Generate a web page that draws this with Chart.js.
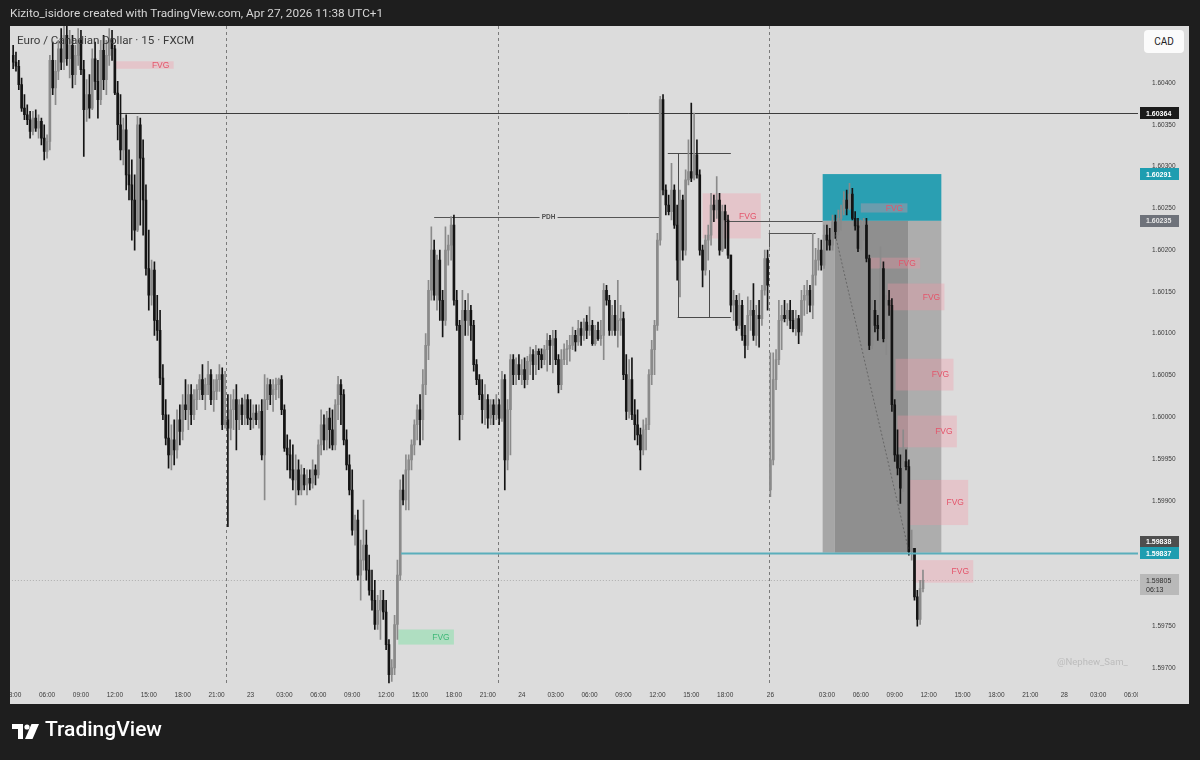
<!DOCTYPE html>
<html><head><meta charset="utf-8">
<script src="https://cdn.jsdelivr.net/npm/chart.js@4.4.1/dist/chart.umd.min.js"></script>
<style>
html,body{margin:0;padding:0;background:#1e1e1e;}
#wrap{position:relative;width:1200px;height:760px;overflow:hidden;}
canvas{position:absolute;left:0;top:0;}
.t{position:absolute;white-space:nowrap;font-family:Roboto,"Liberation Sans",sans-serif;}
</style></head><body>
<div id="wrap">
<canvas id="c" width="1200" height="760"></canvas>
<div class="t" style="left:10px;top:6px;font-size:11.8px;color:#d6d6d6;">Kizito_isidore created with TradingView.com, Apr 27, 2026 11:38 UTC+1</div>
<div class="t" style="left:17px;top:33px;font-size:11.6px;color:#3a3a3a;">Euro / Canadian Dollar · 15 · FXCM</div>
<div class="t" style="left:1144px;top:30px;width:40px;height:23px;line-height:23px;text-align:center;background:#fbfbfb;border-radius:4px;font-size:10px;color:#222;">CAD</div>
<div class="t" style="left:1057px;top:656px;font-size:9.5px;color:#bcbcbc;">@Nephew_Sam_</div>
<svg style="position:absolute;left:12px;top:724px" width="28" height="16" viewBox="0 0 28 16"><path d="M0 0H11V15H6V5H0Z" fill="#fff"/><circle cx="15" cy="3" r="2.6" fill="#fff"/><path d="M19.5 0H27L20.5 15H13Z" fill="#fff"/></svg>
<div class="t" style="left:45px;top:717px;font-size:21px;font-weight:500;color:#fff;">TradingView</div>
</div>
<script>
// ---- OHLC, 15-minute EUR/CAD bars (bar index 0 = 22nd 03:00) ----
const opens = [1.60433,1.60425,1.60420,1.60398,1.60370,1.60362,1.60356,1.60342,1.60358,1.60346,
1.60354,1.60334,1.60318,1.60330,1.60427,1.60394,1.60414,1.60441,1.60425,1.60457,
1.60429,1.60445,1.60410,1.60433,1.60451,1.60416,1.60368,1.60386,1.60370,1.60429,
1.60402,1.60380,1.60439,1.60404,1.60433,1.60453,1.60441,1.60388,1.60350,1.60320,
1.60344,1.60290,1.60278,1.60260,1.60224,1.60350,1.60310,1.60260,1.60178,1.60146,
1.60176,1.60116,1.60104,1.60047,1.60003,1.59975,1.59955,1.59973,1.59961,1.59997,
1.59983,1.60015,1.60009,1.60027,1.60003,1.60021,1.60033,1.60045,1.60027,1.60039,
1.60051,1.60021,1.60031,1.60045,1.60051,1.59991,1.59997,1.59987,1.60009,1.60021,
1.59997,1.60015,1.60003,1.60021,1.59999,1.59997,1.60005,1.59997,1.60007,1.59955,
1.60021,1.60039,1.60027,1.60033,1.60039,1.60045,1.60009,1.59963,1.59955,1.59937,
1.59925,1.59937,1.59913,1.59931,1.59919,1.59927,1.59921,1.59937,1.59931,1.59967,
1.59991,1.59973,1.59999,1.59985,1.59967,1.60015,1.60039,1.60027,1.59973,1.59943,
1.59913,1.59865,1.59877,1.59811,1.59829,1.59847,1.59817,1.59793,1.59781,1.59752,
1.59769,1.59781,1.59767,1.59728,1.59692,1.59700,1.59752,1.59811,1.59913,1.59901,
1.59937,1.59949,1.59967,1.59991,1.60009,1.59997,1.60039,1.60086,1.60152,1.60200,
1.60146,1.60188,1.60140,1.60116,1.60200,1.60206,1.60230,1.60140,1.60110,1.60003,
1.60128,1.60116,1.60128,1.60110,1.60063,1.60045,1.60027,1.60009,1.60021,1.59999,
1.60015,1.60003,1.60015,1.59999,1.60045,1.59949,1.60009,1.60069,1.60051,1.60063,
1.60051,1.60057,1.60045,1.60067,1.60075,1.60063,1.60079,1.60075,1.60069,1.60081,
1.60092,1.60086,1.60094,1.60069,1.60039,1.60069,1.60081,1.60082,1.60086,1.60098,
1.60090,1.60106,1.60098,1.60114,1.60104,1.60110,1.60088,1.60104,1.60094,1.60098,
1.60152,1.60140,1.60104,1.60122,1.60104,1.60116,1.60118,1.60051,1.60007,1.60045,
1.60003,1.59991,1.59979,1.59961,1.59985,1.59991,1.60051,1.60081,1.60110,1.60212,
1.60380,1.60272,1.60254,1.60246,1.60272,1.60230,1.60188,1.60260,1.60200,1.60284,
1.60294,1.60286,1.60314,1.60290,1.60200,1.60176,1.60212,1.60218,1.60254,1.60248,
1.60260,1.60200,1.60246,1.60236,1.60194,1.60134,1.60140,1.60110,1.60134,1.60098,
1.60086,1.60122,1.60128,1.60098,1.60122,1.60118,1.60152,1.60190,1.59913,1.59949,
1.60045,1.60069,1.60116,1.60122,1.60118,1.60128,1.60116,1.60106,1.60118,1.60102,
1.60140,1.60146,1.60152,1.60134,1.60170,1.60188,1.60200,1.60182,1.60218,1.60212,
1.60206,1.60234,1.60222,1.60238,1.60248,1.60260,1.60250,1.60267,1.60238,1.60229,
1.60202,1.60226,1.60230,1.60190,1.60086,1.60128,1.60110,1.60106,1.60178,1.60094,
1.60140,1.60134,1.60015,1.59955,1.59939,1.59915,1.59947,1.59941,1.59839,1.59843,
1.59785,1.59758,1.59795];
const highs = [1.60445,1.60437,1.60427,1.60406,1.60386,1.60374,1.60366,1.60366,1.60368,1.60362,
1.60358,1.60350,1.60338,1.60433,1.60449,1.60427,1.60451,1.60465,1.60468,1.60468,
1.60463,1.60457,1.60445,1.60465,1.60463,1.60427,1.60404,1.60410,1.60441,1.60449,
1.60427,1.60451,1.60457,1.60451,1.60465,1.60463,1.60445,1.60402,1.60386,1.60358,
1.60362,1.60320,1.60308,1.60290,1.60360,1.60358,1.60332,1.60278,1.60224,1.60188,
1.60186,1.60146,1.60128,1.60063,1.60021,1.60003,1.59991,1.59997,1.60009,1.60015,
1.60027,1.60045,1.60039,1.60039,1.60033,1.60039,1.60051,1.60063,1.60047,1.60067,
1.60057,1.60045,1.60051,1.60063,1.60059,1.60055,1.60027,1.60027,1.60033,1.60039,
1.60021,1.60023,1.60027,1.60027,1.60021,1.60015,1.60015,1.60015,1.60021,1.60051,
1.60047,1.60045,1.60045,1.60047,1.60047,1.60050,1.60015,1.59979,1.59973,1.59967,
1.59955,1.59949,1.59943,1.59939,1.59937,1.59937,1.59949,1.59943,1.59973,1.60009,
1.60003,1.60007,1.60011,1.60009,1.60021,1.60049,1.60045,1.60033,1.59985,1.59955,
1.59937,1.59883,1.59889,1.59853,1.59901,1.59865,1.59835,1.59817,1.59805,1.59787,
1.59793,1.59793,1.59781,1.59734,1.59710,1.59763,1.59829,1.59925,1.59931,1.59955,
1.59955,1.59973,1.59997,1.60015,1.60027,1.60057,1.60100,1.60164,1.60228,1.60212,
1.60194,1.60200,1.60152,1.60228,1.60218,1.60240,1.60242,1.60152,1.60116,1.60152,
1.60140,1.60148,1.60134,1.60116,1.60069,1.60051,1.60045,1.60039,1.60027,1.60021,
1.60021,1.60027,1.60021,1.60055,1.60051,1.60021,1.60075,1.60075,1.60071,1.60075,
1.60069,1.60071,1.60073,1.60084,1.60081,1.60086,1.60082,1.60082,1.60086,1.60100,
1.60098,1.60104,1.60104,1.60075,1.60081,1.60088,1.60092,1.60098,1.60108,1.60104,
1.60116,1.60114,1.60118,1.60122,1.60132,1.60116,1.60110,1.60114,1.60116,1.60160,
1.60158,1.60146,1.60134,1.60140,1.60164,1.60134,1.60126,1.60075,1.60069,1.60071,
1.60021,1.60009,1.59987,1.59997,1.59999,1.60057,1.60092,1.60116,1.60220,1.60384,
1.60386,1.60278,1.60266,1.60304,1.60278,1.60254,1.60272,1.60266,1.60296,1.60332,
1.60376,1.60364,1.60332,1.60296,1.60206,1.60218,1.60230,1.60268,1.60266,1.60288,
1.60268,1.60254,1.60254,1.60242,1.60194,1.60152,1.60146,1.60148,1.60140,1.60110,
1.60144,1.60140,1.60160,1.60134,1.60140,1.60158,1.60200,1.60200,1.60077,1.60077,
1.60081,1.60140,1.60134,1.60140,1.60136,1.60140,1.60128,1.60128,1.60122,1.60152,
1.60158,1.60164,1.60158,1.60220,1.60202,1.60214,1.60212,1.60230,1.60230,1.60226,
1.60242,1.60242,1.60248,1.60254,1.60270,1.60272,1.60280,1.60274,1.60246,1.60238,
1.60236,1.60238,1.60238,1.60194,1.60140,1.60140,1.60122,1.60204,1.60186,1.60146,
1.60152,1.60142,1.60021,1.59985,1.59955,1.59985,1.59961,1.59949,1.59865,1.59843,
1.59793,1.59805,1.59817];
const lows = [1.60417,1.60414,1.60392,1.60366,1.60356,1.60350,1.60334,1.60338,1.60342,1.60334,
1.60326,1.60308,1.60310,1.60320,1.60386,1.60374,1.60404,1.60416,1.60416,1.60421,
1.60406,1.60394,1.60398,1.60421,1.60410,1.60312,1.60354,1.60358,1.60368,1.60392,
1.60358,1.60374,1.60392,1.60386,1.60421,1.60427,1.60386,1.60332,1.60308,1.60302,
1.60272,1.60260,1.60212,1.60200,1.60222,1.60230,1.60218,1.60170,1.60128,1.60134,
1.60098,1.60092,1.60039,1.59997,1.59967,1.59939,1.59937,1.59943,1.59951,1.59967,
1.59973,1.59997,1.59985,1.59991,1.59997,1.60009,1.60021,1.60021,1.60009,1.60027,
1.60015,1.60007,1.60021,1.60031,1.59985,1.59987,1.59869,1.59973,1.59985,1.59961,
1.59985,1.59991,1.59991,1.59991,1.59985,1.59987,1.59991,1.59987,1.59949,1.59901,
1.60009,1.60015,1.60007,1.60021,1.60023,1.60003,1.59959,1.59937,1.59927,1.59913,
1.59895,1.59907,1.59907,1.59913,1.59907,1.59913,1.59915,1.59919,1.59927,1.59955,
1.59961,1.59961,1.59963,1.59961,1.59961,1.59997,1.59991,1.59967,1.59937,1.59907,
1.59859,1.59847,1.59805,1.59781,1.59817,1.59805,1.59787,1.59769,1.59746,1.59746,
1.59734,1.59758,1.59722,1.59682,1.59684,1.59692,1.59734,1.59805,1.59895,1.59889,
1.59889,1.59937,1.59955,1.59973,1.59967,1.59973,1.60027,1.60069,1.60140,1.60140,
1.60128,1.60116,1.60096,1.60110,1.60182,1.60188,1.60134,1.60104,1.59973,1.59997,
1.60098,1.60098,1.60092,1.60055,1.60039,1.60021,1.59993,1.59991,1.59987,1.59991,
1.59991,1.59997,1.59991,1.59995,1.59913,1.59937,1.59955,1.60039,1.60039,1.60045,
1.60039,1.60035,1.60039,1.60051,1.60045,1.60051,1.60057,1.60059,1.60063,1.60055,
1.60063,1.60053,1.60063,1.60029,1.60033,1.60063,1.60063,1.60067,1.60081,1.60079,
1.60086,1.60086,1.60092,1.60094,1.60098,1.60086,1.60086,1.60092,1.60086,1.60069,
1.60134,1.60098,1.60098,1.60098,1.60084,1.60098,1.60045,1.59997,1.59999,1.59997,
1.59973,1.59967,1.59937,1.59955,1.59961,1.59985,1.60039,1.60051,1.60104,1.60206,
1.60266,1.60242,1.60242,1.60236,1.60226,1.60164,1.60144,1.60188,1.60194,1.60278,
1.60282,1.60284,1.60286,1.60194,1.60156,1.60170,1.60188,1.60206,1.60234,1.60238,
1.60194,1.60198,1.60202,1.60190,1.60126,1.60116,1.60104,1.60106,1.60092,1.60071,
1.60081,1.60104,1.60092,1.60086,1.60084,1.60110,1.60146,1.60128,1.59905,1.59943,
1.60033,1.60063,1.60081,1.60114,1.60110,1.60106,1.60102,1.60098,1.60088,1.60098,
1.60122,1.60124,1.60126,1.60118,1.60158,1.60176,1.60176,1.60178,1.60200,1.60200,
1.60200,1.60214,1.60218,1.60224,1.60242,1.60242,1.60248,1.60236,1.60224,1.60198,
1.60200,1.60212,1.60186,1.60081,1.60082,1.60102,1.60092,1.60104,1.60090,1.60075,
1.60122,1.60007,1.59947,1.59931,1.59897,1.59911,1.59937,1.59835,1.59829,1.59781,
1.59750,1.59752,1.59791];
const closes = [1.60425,1.60420,1.60398,1.60370,1.60362,1.60356,1.60342,1.60358,1.60346,1.60354,
1.60334,1.60318,1.60330,1.60427,1.60394,1.60414,1.60441,1.60425,1.60457,1.60429,
1.60445,1.60410,1.60433,1.60451,1.60416,1.60368,1.60386,1.60370,1.60429,1.60402,
1.60380,1.60439,1.60404,1.60433,1.60453,1.60441,1.60388,1.60350,1.60320,1.60344,
1.60290,1.60278,1.60260,1.60224,1.60350,1.60310,1.60260,1.60178,1.60146,1.60176,
1.60116,1.60104,1.60047,1.60003,1.59975,1.59955,1.59973,1.59961,1.59997,1.59983,
1.60015,1.60009,1.60027,1.60003,1.60021,1.60033,1.60045,1.60027,1.60039,1.60051,
1.60021,1.60031,1.60045,1.60051,1.59991,1.59997,1.59987,1.60009,1.60021,1.59997,
1.60015,1.60003,1.60021,1.59999,1.59997,1.60005,1.59997,1.60007,1.59955,1.60021,
1.60039,1.60027,1.60033,1.60039,1.60045,1.60009,1.59963,1.59955,1.59937,1.59925,
1.59937,1.59913,1.59931,1.59919,1.59927,1.59921,1.59937,1.59931,1.59967,1.59991,
1.59973,1.59999,1.59985,1.59967,1.60015,1.60039,1.60027,1.59973,1.59943,1.59913,
1.59865,1.59877,1.59811,1.59829,1.59847,1.59817,1.59793,1.59781,1.59752,1.59769,
1.59781,1.59767,1.59728,1.59692,1.59700,1.59752,1.59811,1.59913,1.59901,1.59937,
1.59949,1.59967,1.59991,1.60009,1.59997,1.60039,1.60086,1.60152,1.60200,1.60146,
1.60188,1.60140,1.60116,1.60200,1.60206,1.60230,1.60140,1.60110,1.60003,1.60128,
1.60116,1.60128,1.60110,1.60063,1.60045,1.60027,1.60009,1.60021,1.59999,1.60015,
1.60003,1.60015,1.59999,1.60045,1.59949,1.60009,1.60069,1.60051,1.60063,1.60051,
1.60057,1.60045,1.60067,1.60075,1.60063,1.60079,1.60075,1.60069,1.60081,1.60092,
1.60086,1.60094,1.60069,1.60039,1.60069,1.60081,1.60082,1.60086,1.60098,1.60090,
1.60106,1.60098,1.60114,1.60104,1.60110,1.60088,1.60104,1.60094,1.60098,1.60152,
1.60140,1.60104,1.60122,1.60104,1.60116,1.60118,1.60051,1.60007,1.60045,1.60003,
1.59991,1.59979,1.59961,1.59985,1.59991,1.60051,1.60081,1.60110,1.60212,1.60380,
1.60272,1.60254,1.60246,1.60272,1.60230,1.60188,1.60260,1.60200,1.60284,1.60294,
1.60286,1.60314,1.60290,1.60200,1.60176,1.60212,1.60218,1.60254,1.60248,1.60260,
1.60200,1.60246,1.60236,1.60194,1.60134,1.60140,1.60110,1.60134,1.60098,1.60086,
1.60122,1.60128,1.60098,1.60122,1.60118,1.60152,1.60190,1.60158,1.59949,1.60045,
1.60069,1.60116,1.60122,1.60118,1.60128,1.60116,1.60106,1.60118,1.60102,1.60140,
1.60146,1.60152,1.60134,1.60170,1.60188,1.60200,1.60182,1.60218,1.60212,1.60206,
1.60234,1.60222,1.60238,1.60248,1.60260,1.60250,1.60267,1.60238,1.60229,1.60202,
1.60226,1.60230,1.60190,1.60086,1.60128,1.60110,1.60106,1.60178,1.60094,1.60140,
1.60134,1.60015,1.59955,1.59939,1.59915,1.59947,1.59941,1.59839,1.59843,1.59785,
1.59758,1.59795,1.59805];

// ---- axis ticks ----
const xTickIdx = [0,12,24,36,48,60,72,84,96,108,120,132,144,156,168,180,192,204,216,228,240,252,268,288,300,312,324,336,348,360,372,384,396];
const xTickText = ['03:00','06:00','09:00','12:00','15:00','18:00','21:00','23','03:00','06:00','09:00','12:00','15:00','18:00','21:00','24','03:00','06:00','09:00','12:00','15:00','18:00','26','03:00','06:00','09:00','12:00','15:00','18:00','21:00','28','03:00','06:00'];
const yTicks = [1.597,1.5975,1.598,1.5985,1.599,1.5995,1.600,1.6005,1.601,1.6015,1.602,1.6025,1.603,1.6035,1.604];
const sessionBreaks = [75.5,171.5,267.5];

// ---- drawings (bar index / price) ----
const fvgFrom = [36,244,300,303.4,309.5,312.3,313,316.9,318.6,136.3];
const fvgTo   = [56.8,264.6,316.5,321,329.6,332.8,334,338,339.8,156];
const fvgHigh = [1.60426,1.60268,1.60256,1.60191,1.60160,1.60070,1.60002,1.59925,1.59829,1.59746];
const fvgLow  = [1.60417,1.60214,1.60245,1.60178,1.60128,1.60032,1.59964,1.59871,1.59802,1.59728];
const fvgBull = [false,false,false,false,false,false,false,false,false,true];
const posBands = [286.5,290.7,316.9,328.5];
const posTarget = 1.60291, posEntry = 1.60235, posStop = 1.59838;
const levelPrice = 1.60364, levelFrom = 37.7;
const pdhPrice = 1.60240, pdhFrom = 149, pdhTo = 229.3, pdhText = 189.5;
const tealPrice = 1.59837, tealFrom = 137.3;
const lastPrice = 1.59805;
const entryLine = [252.2, 286.5];
const rangeBox = {top:1.60316, bottom:1.60120, topFrom:231.7, left:235.2, right:254, mid:246.2, midTop:1.60176};
const bracket = {p:1.60221, p2:1.60203, from:267.4, to:284};
const diag = [[291,1.60218],[316.9,1.59841]];

const idx = closes.map((_, i) => i);
const colors = closes.map((c, i) => c >= opens[i] ? '#8a8a8a' : '#141414');

function hline(c, x1, x2, yy){ c.beginPath(); c.moveTo(x1, yy); c.lineTo(x2, yy); c.stroke(); }
function vline(c, xx, y1, y2){ c.beginPath(); c.moveTo(xx, y1); c.lineTo(xx, y2); c.stroke(); }

const decor = {
  id: 'decor',
  beforeDraw(chart){
    const c = chart.ctx; c.save();
    c.fillStyle = '#1e1e1e'; c.fillRect(0,0,1200,760);
    c.fillStyle = '#dcdcdc'; c.fillRect(10,26,1179,678);
    c.restore();
  },
  beforeDatasetsDraw(chart){
    const {ctx:c, chartArea:a, scales:{x, y}} = chart;
    const X = v => x.getPixelForValue(v), Y = v => y.getPixelForValue(v);
    c.save();
    c.beginPath(); c.rect(a.left, a.top, a.right-a.left, a.bottom-a.top); c.clip();
    c.lineWidth = 1;
    c.strokeStyle = '#7a7a7a'; c.setLineDash([3,3]);
    sessionBreaks.forEach(v => { const p = Math.round(X(v))+0.5; vline(c, p, a.top, a.bottom); });
    c.strokeStyle = 'rgba(120,120,120,0.45)'; c.setLineDash([1,2]);
    hline(c, a.left, a.right, Math.round(Y(lastPrice))+0.5);
    c.setLineDash([]);
    c.strokeStyle = '#3c3c3c';
    hline(c, X(levelFrom), a.right, Math.round(Y(levelPrice))+0.5);
    c.fillStyle = '#2a9fb2';
    c.fillRect(X(posBands[0]), Y(posTarget), X(posBands[3])-X(posBands[0]), Y(posEntry)-Y(posTarget));
    const bandCol = ['#a6a6a6','#8f8f8f','#adadad'];
    for (let k=0;k<3;k++){
      c.fillStyle = bandCol[k];
      c.fillRect(X(posBands[k]), Y(posEntry), X(posBands[k+1])-X(posBands[k]), Y(posStop)-Y(posEntry));
    }
    for (let k=0;k<fvgFrom.length;k++){
      c.fillStyle = fvgBull[k] ? 'rgba(120,225,160,0.45)' : 'rgba(245,150,165,0.32)';
      c.fillRect(X(fvgFrom[k]), Y(fvgHigh[k]), X(fvgTo[k])-X(fvgFrom[k]), Y(fvgLow[k])-Y(fvgHigh[k]));
    }
    c.strokeStyle = '#4a4a4a';
    const rt = Math.round(Y(rangeBox.top))+0.5, rb = Math.round(Y(rangeBox.bottom))+0.5;
    hline(c, X(rangeBox.topFrom), X(rangeBox.right), rt);
    hline(c, X(rangeBox.left), X(rangeBox.right), rb);
    vline(c, Math.round(X(rangeBox.left))+0.5, rt, rb);
    vline(c, Math.round(X(rangeBox.mid))+0.5, Y(rangeBox.midTop), rb);
    c.strokeStyle = '#555';
    const py = Math.round(Y(pdhPrice))+0.5;
    hline(c, X(pdhFrom), X(pdhText)-9, py);
    hline(c, X(pdhText)+9, X(pdhTo), py);
    hline(c, X(entryLine[0]), X(entryLine[1]), Math.round(Y(posEntry))+0.5);
    const bp = Math.round(Y(bracket.p))+0.5;
    hline(c, X(bracket.from), X(bracket.to), bp);
    vline(c, Math.round(X(bracket.from))+0.5, bp, Y(bracket.p2));
    c.restore();
  },
  afterDatasetsDraw(chart){
    const {ctx:c, chartArea:a, scales:{x, y}} = chart;
    const X = v => x.getPixelForValue(v), Y = v => y.getPixelForValue(v);
    c.save();
    c.beginPath(); c.rect(a.left, a.top, a.right-a.left, a.bottom-a.top); c.clip();
    c.strokeStyle = 'rgba(70,70,70,0.55)'; c.lineWidth = 1; c.setLineDash([2,2]);
    c.beginPath(); c.moveTo(X(diag[0][0]), Y(diag[0][1])); c.lineTo(X(diag[1][0]), Y(diag[1][1])); c.stroke();
    c.setLineDash([]);
    c.strokeStyle = '#5aaebb'; c.lineWidth = 2;
    hline(c, X(tealFrom), a.right, Y(tealPrice));
    c.font = '8.5px "Liberation Sans", Arial, sans-serif';
    c.textAlign = 'center'; c.textBaseline = 'middle';
    for (let k=0;k<fvgFrom.length;k++){
      c.fillStyle = fvgBull[k] ? '#3db877' : '#e4546a';
      c.fillText('FVG', X(fvgTo[k]) - 13, (Y(fvgHigh[k]) + Y(fvgLow[k]))/2 + 0.5);
    }
    c.font = 'bold 6.5px "Liberation Sans", Arial, sans-serif';
    c.fillStyle = '#505050';
    c.fillText('PDH', X(pdhText), Y(pdhPrice) + 0.5);
    c.restore();
  },
  afterDraw(chart){
    const {ctx:c, scales:{y}} = chart;
    const Y = v => y.getPixelForValue(v);
    c.save();
    c.fillStyle = '#1e1e1e'; c.fillRect(0, 680, 10, 30);
    c.fillStyle = '#dcdcdc'; c.fillRect(1138, 687, 51, 17);
    const labs = [
      {p:levelPrice, t:levelPrice.toFixed(5), bg:'#1b1b1b', fg:'#ffffff', dy:0},
      {p:posTarget, t:posTarget.toFixed(5), bg:'#1e9db0', fg:'#ffffff', dy:0},
      {p:posEntry, t:posEntry.toFixed(5), bg:'#6e727a', fg:'#e6e6e6', dy:0},
      {p:posStop, t:posStop.toFixed(5), bg:'#4e4e4e', fg:'#ffffff', dy:-11},
      {p:tealPrice, t:tealPrice.toFixed(5), bg:'#1e9db0', fg:'#ffffff', dy:0}
    ];
    c.font = 'bold 7px "Liberation Sans", Arial, sans-serif';
    c.textAlign = 'left'; c.textBaseline = 'middle';
    labs.forEach(l => {
      const cy = Y(l.p) + l.dy;
      c.fillStyle = l.bg; c.fillRect(1140, Math.round(cy-6), 39, 12);
      c.fillStyle = l.fg; c.fillText(l.t, 1146, cy+0.5);
    });
    const ly = Y(lastPrice);
    c.fillStyle = '#b9b9b9'; c.fillRect(1140, Math.round(ly-6), 39, 21);
    c.fillStyle = '#2e2e2e';
    c.font = '7px "Liberation Sans", Arial, sans-serif';
    c.fillText(lastPrice.toFixed(5), 1146, ly+0.5);
    c.fillText('06:13', 1146, ly+9.5);
    c.restore();
  }
};

new Chart(document.getElementById('c'), {
  type: 'bar',
  data: { datasets: [
    { label:'wick', data: idx.map(i => ({x:i, y:[lows[i], highs[i]]})), backgroundColor: colors, barThickness: 1, grouped: false, order: 2 },
    { label:'body', data: idx.map(i => ({x:i, y:[opens[i], closes[i]]})), backgroundColor: colors, barThickness: 2, minBarLength: 1, grouped: false, order: 1 }
  ]},
  options: {
    responsive: false, animation: false, devicePixelRatio: 1,
    layout: { padding: { left: 10, top: 26, right: 11, bottom: 56 } },
    plugins: { legend: { display: false }, tooltip: { enabled: false } },
    scales: {
      x: {
        type: 'linear', min: -0.46, max: 398.1, offset: false,
        grid: { display: false, drawTicks: false, offset: false }, border: { display: false },
        afterFit: s => { s.height = 18; },
        afterBuildTicks: s => { s.ticks = xTickIdx.map(v => ({value: v})); },
        ticks: { autoSkip: false, maxRotation: 0, padding: 5, color: '#3a3a3a',
          font: { size: 6.5, family: '"Liberation Sans", Arial, sans-serif' },
          callback: v => { const k = xTickIdx.indexOf(v); return k < 0 ? '' : xTickText[k]; } }
      },
      y: {
        type: 'linear', position: 'right', min: 1.596784, max: 1.604682,
        grid: { display: false, drawTicks: false }, border: { display: false },
        afterFit: s => { s.width = 51; },
        afterBuildTicks: s => { s.ticks = yTicks.map(v => ({value: v})); },
        ticks: { padding: 14, color: '#3a3a3a',
          font: { size: 6.5, family: '"Liberation Sans", Arial, sans-serif' },
          callback: v => v.toFixed(5) }
      }
    }
  },
  plugins: [decor]
});
</script>
</body></html>
